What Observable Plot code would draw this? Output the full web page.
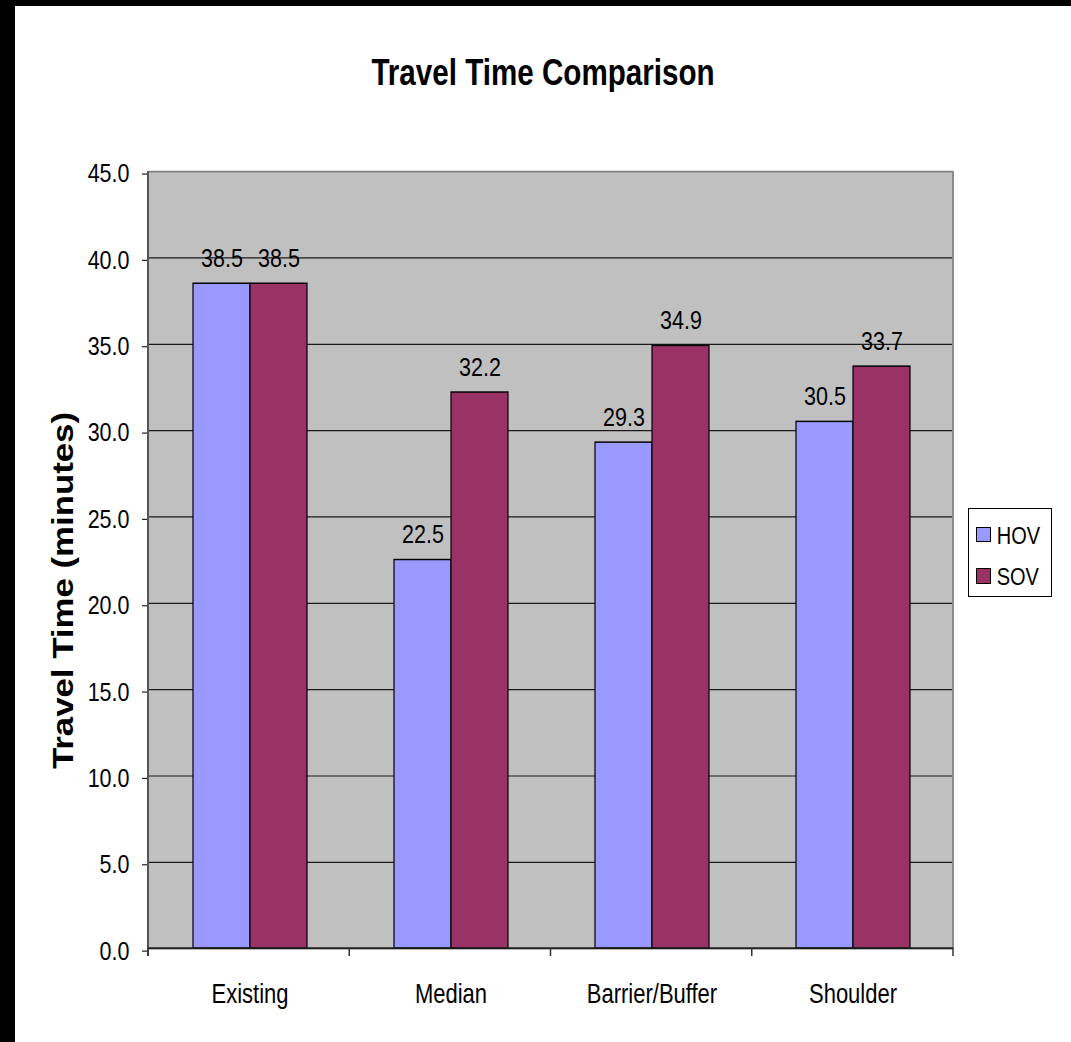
<!DOCTYPE html>
<html>
<head>
<meta charset="utf-8">
<script src="https://cdn.jsdelivr.net/npm/d3@7"></script>
<script src="https://cdn.jsdelivr.net/npm/@observablehq/plot@0.6"></script>
<style>
  html, body { margin: 0; padding: 0; background: #fff; }
  #page { position: relative; width: 1071px; height: 1042px; overflow: hidden; background: #fff;
          font-family: "Liberation Sans", Arial, sans-serif; color: #000; }
  .bar-left { position: absolute; left: 0; top: 0; width: 15px; height: 1042px; background: #000; z-index: 5; }
  .bar-top { position: absolute; left: 0; top: 0; width: 1071px; height: 6px; background: #000; z-index: 5; }
  #titlebox { height: 110px; position: relative; }
  #title { position: absolute; left: 15px; top: 54.4px; width: 1056px; font-size: 29.6px; line-height: 29.6px;
           font-weight: bold; text-align: center; margin: 0; transform: scaleY(1.22); transform-origin: 0 0; }
  #chart { height: 932px; }
  #chart svg { display: block; transform: scaleY(1.2199); transform-origin: 0 0; }
  #ylabel { position: absolute; left: -137px; top: 575.5px; width: 400px; height: 29px; line-height: 29px;
            font-weight: bold; font-size: 29px;
            text-align: center; white-space: nowrap; transform: rotate(-90deg) scaleX(1.2); }
  #legend { position: absolute; left: 968px; top: 508px; width: 84px; height: 89px; box-sizing: border-box;
            border: 1px solid #000; background: #fff; }
  .sw { position: absolute; left: 7px; width: 14.7px; height: 15.8px; box-sizing: border-box; border: 1.6px solid #000; }
  .lt { position: absolute; left: 27.7px; font-size: 20px; line-height: 20px; transform: scaleY(1.22); transform-origin: 0 0; }
</style>
</head>
<body>
<div id="page">
  <div class="bar-left"></div>
  <div class="bar-top"></div>
  <div id="titlebox"><div id="title">Travel Time Comparison</div></div>
  <div id="chart"></div>
  <div id="ylabel">Travel Time (minutes)</div>
  <div id="legend"></div>
</div>
<script>
// ---- data ----
const categories = ["Existing", "Median", "Barrier/Buffer", "Shoulder"];
const series = ["HOV", "SOV"];
const hovValues = [38.5, 22.5, 29.3, 30.5];
const sovValues = [38.5, 32.2, 34.9, 33.7];
const seriesColors = ["#9999FF", "#993366"];
const yTicks = [0, 5, 10, 15, 20, 25, 30, 35, 40, 45];

const rows = [];
categories.forEach((c, i) => {
  rows.push({category: c, series: "HOV", value: hovValues[i]});
  rows.push({category: c, series: "SOV", value: sovValues[i]});
});

// The chart is drawn at natural proportions, then stretched vertically (like the original picture).
const W = 1071, H = 764;
const fontFam = '"Liberation Sans", Arial, sans-serif';

const plot = Plot.plot({
  width: W,
  height: H,
  marginLeft: 148,
  marginRight: 118,
  marginTop: 50,
  marginBottom: 77,
  style: {fontFamily: fontFam, fontSize: "21.5px", color: "#000", background: "transparent", overflow: "visible"},
  fx: {domain: categories, padding: 0, label: null},
  x: {domain: series, paddingInner: 0, paddingOuter: 0.75, axis: null},
  y: {domain: [0, 45], label: null},
  color: {domain: series, range: seriesColors},
  marks: [
    Plot.frame({fill: "#c0c0c0", stroke: "#c0c0c0", strokeWidth: 1}),
    Plot.gridY(yTicks.filter(d => d < d3.max(yTicks)), {stroke: "#1a1a1a", strokeOpacity: 1, strokeWidth: 1}),
    Plot.ruleY([d3.max(yTicks)], {stroke: "#808080", strokeWidth: 1.6}),
    Plot.axisY({ticks: yTicks, tickFormat: d3.format(".1f"), tickSize: 7, tickPadding: 13, dy: 2, label: null, fontSize: 21.5, stroke: "#222"}),
    Plot.axisFx({anchor: "bottom", tickSize: 0, tickPadding: 28.7, label: null, fontSize: 22}),
    Plot.barY(rows, {fx: "category", x: "series", y: "value", fill: "series", stroke: "#000", strokeWidth: 1.2}),
    Plot.text(rows, {fx: "category", x: "series", y: "value", text: d => d.value.toFixed(1),
      lineAnchor: "bottom", dy: -14, fontSize: 21.5, fill: "#000"})
  ]
});
document.getElementById("chart").appendChild(plot);

// axis decorations: right border, axis lines, category boundary ticks (derived from the scales)
const svg = d3.select(plot);
const fx = plot.scale("fx");
const y = plot.scale("y");
const yBottom = Math.max(...y.range), yTop = Math.min(...y.range);
const x0 = Math.min(...fx.range), x1 = Math.max(...fx.range);
const step = (x1 - x0) / categories.length;
const deco = svg.append("g");
deco.append("line").attr("x1", x1).attr("x2", x1).attr("y1", yTop).attr("y2", yBottom)
  .attr("stroke", "#8c8c8c").attr("stroke-width", 2);
deco.append("line").attr("x1", x0).attr("x2", x0).attr("y1", yTop).attr("y2", yBottom + 6.6)
  .attr("stroke", "#555").attr("stroke-width", 2);
deco.append("line").attr("x1", x0).attr("x2", x1).attr("y1", yBottom).attr("y2", yBottom)
  .attr("stroke", "#222").attr("stroke-width", 1.3);
d3.range(categories.length + 1).forEach(i => {
  const xx = x0 + i * step;
  deco.append("line").attr("x1", xx).attr("x2", xx).attr("y1", yBottom).attr("y2", yBottom + 6.6)
    .attr("stroke", "#333").attr("stroke-width", 1.5);
});

// legend
const legend = document.getElementById("legend");
const swTops = [17.7, 59.3];
const txtTops = [13.6, 55.3];
series.forEach((s, i) => {
  const sw = document.createElement("div");
  sw.className = "sw";
  sw.style.top = swTops[i] + "px";
  sw.style.background = seriesColors[i];
  legend.appendChild(sw);
  const t = document.createElement("div");
  t.className = "lt";
  t.style.top = txtTops[i] + "px";
  t.textContent = s;
  legend.appendChild(t);
});
</script>
</body>
</html>
